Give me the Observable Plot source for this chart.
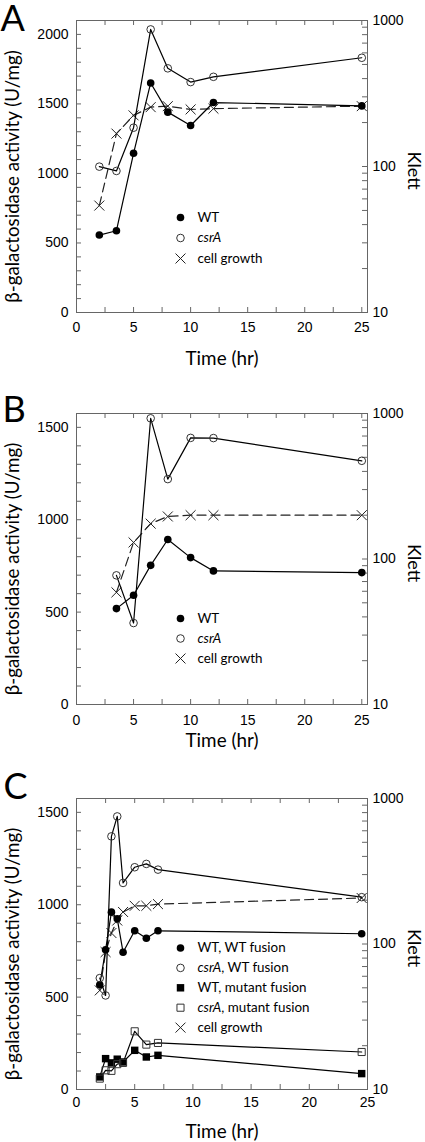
<!DOCTYPE html>
<html><head><meta charset="utf-8">
<script src="https://cdn.jsdelivr.net/npm/d3@7"></script>
<script src="https://cdn.jsdelivr.net/npm/@observablehq/plot@0.6"></script>
<style>
html,body{margin:0;padding:0;background:#fff;}
#chart{position:relative;width:425px;height:1142px;overflow:hidden;background:#fff;}
</style></head><body><div id="chart"></div>
<script>
// ---------------- data ----------------
// Panel A
const timeA   = [2, 3.5, 5, 6.5, 8, 10, 12, 25];
const wtA     = [557, 588, 1145, 1651, 1441, 1345, 1510, 1486];
const csrAA   = [1049, 1018, 1329, 2036, 1756, 1657, 1695, 1832];
const growthA = [54, 168, 224, 255, 259, 246, 249, 259];
// Panel B
const timeB   = [3.5, 5, 6.5, 8, 10, 12, 25];
const wtB     = [519, 591, 753, 893, 795, 723, 714];
const csrAB   = [699, 441, 1549, 1220, 1443, 1442, 1319];
const growthB = [59, 130, 175, 196, 200, 200, 200];
// Panel C
const timeC   = [2, 2.5, 3, 3.5, 4, 5, 6, 7, 24.5];
const wtWtC   = [567, 756, 960, 924, 743, 859, 819, 859, 843];
const csrWtC  = [603, 509, 1370, 1478, 1118, 1203, 1221, 1190, 1041];
const wtMutC  = [68, 167, 144, 164, 149, 212, 176, 185, 86];
const csrMutC = [59, 104, 101, 137, 144, 315, 243, 252, 203];
const growthC = [48, 88, 119, 145, 166, 183, 183, 188, 207];

// tick labels
const xTicks = [0, 5, 10, 15, 20, 25];
const yTicksA = [0, 500, 1000, 1500, 2000];
const yTicksBC = [0, 500, 1000, 1500];
const kletTicks = [10, 100, 1000];

// text
const yTitle = "β-galactosidase activity (U/mg)";
const xTitle = "Time (hr)";
const rTitle = "Klett";
const legendAB = [
  {sym: "filledCircle", parts: [["WT", false]]},
  {sym: "openCircle", parts: [["csrA", true]]},
  {sym: "times", parts: [["cell growth", false]]}
];
const legendC = [
  {sym: "filledCircle", parts: [["WT, WT fusion", false]]},
  {sym: "openCircle", parts: [["csrA", true], [", WT fusion", false]]},
  {sym: "filledSquare", parts: [["WT, mutant fusion", false]]},
  {sym: "openSquare", parts: [["csrA", true], [", mutant fusion", false]]},
  {sym: "times", parts: [["cell growth", false]]}
];

// ---------------- layout / style ----------------
const W = 425, ML = 76, MR = 58;
const TITLE_FONT = "Lato, 'Open Sans', sans-serif";
const TICK_FONT = "'Liberation Sans', Arial, sans-serif";
const FRAME = "#666";
const ctx = document.createElement("canvas").getContext("2d");
function textW(s, italic, size) {
  ctx.font = `${italic ? "italic " : ""}${size}px ${TITLE_FONT}`;
  return ctx.measureText(s).width;
}
// font sizes fitted to the reference text lengths
const fit = (s, target) => +(20 * target / textW(s, false, 20)).toFixed(2);
const Y_TITLE_SIZE = fit(yTitle, 253);
const X_TITLE_SIZE = fit(xTitle, 73);
const R_TITLE_SIZE = fit(rTitle, 38);
const LEG_SIZE = fit("cell growth", 65);

const symStyle = {
  filledCircle: {symbol: "circle", fill: "black", stroke: "none", r: 3.8},
  openCircle: {symbol: "circle", fill: "none", stroke: "#333", strokeWidth: 1, r: 3.8},
  filledSquare: {symbol: "square", fill: "black", stroke: "none", r: 4.2},
  openSquare: {symbol: "square", fill: "none", stroke: "#333", strokeWidth: 1, r: 4.0},
  times: {symbol: "times", fill: "none", stroke: "#222", strokeWidth: 1, r: 4.6}
};

function buildPanel(cfg) {
  const plotW = W - ML - MR;
  const plotH = cfg.height - cfg.mt - cfg.mb;
  const common = {width: W, height: cfg.height, marginLeft: ML, marginRight: MR,
                  marginTop: cfg.mt, marginBottom: cfg.mb};
  const xMinor = d3.range(0, cfg.xDomain[1] + 0.01, 2.5);
  const yMinor = d3.range(0, cfg.yDomain[1] + 1, 100);
  const kMinor = [20,30,40,50,60,70,80,90,100,200,300,400,500,600,700,800,900];

  const growth = cfg.time.map((t, i) => ({t, k: cfg.growth[i]}));

  const logPlot = Plot.plot({
    ...common,
    x: {domain: cfg.xDomain, axis: null},
    y: {type: "log", domain: [10, 1000], label: null},
    style: {background: "white", fontFamily: TICK_FONT, fontSize: "14px", color: "black"},
    marks: [
      Plot.line(growth, {x: "t", y: "k", stroke: "#222", strokeWidth: 1.2, strokeDasharray: "9,5"}),
      Plot.dot(growth, {x: "t", y: "k", ...symStyle.times}),
      Plot.tickY(kMinor, {y: d => d, insetLeft: plotW - 5, stroke: FRAME}),
      Plot.axisY({anchor: "right", ticks: kletTicks, tickFormat: d => String(d), tickSize: 0,
                  tickPadding: 5, label: null}),
      Plot.text([rTitle], {text: d => d, frameAnchor: "right", dx: 46, dy: 4, rotate: 90,
                  textAnchor: "middle", lineAnchor: "middle",
                  fontSize: R_TITLE_SIZE, fontFamily: TITLE_FONT, fill: "black"})
    ]
  });

  const seriesMarks = [];
  for (const s of cfg.series) {
    const data = cfg.time.map((t, i) => ({t, v: s.values[i]}));
    seriesMarks.push(Plot.line(data, {x: "t", y: "v", stroke: "black", strokeWidth: 1.2}));
    seriesMarks.push(Plot.dot(data, {x: "t", y: "v", ...symStyle[s.sym]}));
  }

  const legendMarks = [];
  cfg.legend.forEach((item, i) => {
    const dy = cfg.legDy + i * cfg.legStep;
    legendMarks.push(Plot.dot([item], {frameAnchor: "top-left", dx: cfg.legDx, dy, ...symStyle[item.sym]}));
    let off = 0;
    for (const [str, italic] of item.parts) {
      legendMarks.push(Plot.text([str], {text: d => d, frameAnchor: "top-left", dx: cfg.legDx + 17 + off, dy,
        textAnchor: "start", lineAnchor: "middle", fontSize: LEG_SIZE, fontFamily: TITLE_FONT,
        fontStyle: italic ? "italic" : "normal", fill: "black"}));
      off += textW(str, italic, LEG_SIZE);
    }
  });

  const linPlot = Plot.plot({
    ...common,
    x: {domain: cfg.xDomain, label: null},
    y: {domain: cfg.yDomain, label: null},
    style: {background: "transparent", fontFamily: TICK_FONT, fontSize: "14px", color: "black"},
    marks: [
      Plot.tickY(yMinor, {y: d => d, insetRight: plotW - 5, stroke: FRAME}),
      Plot.tickX(xMinor, {x: d => d, insetTop: plotH - 5, stroke: FRAME}),
      Plot.tickX(xMinor, {x: d => d, insetBottom: plotH - 5, stroke: FRAME}),
      Plot.frame({stroke: FRAME}),
      Plot.axisX({ticks: xTicks, tickFormat: d => String(d), tickSize: 0, tickPadding: cfg.xPad, label: null}),
      Plot.axisY({anchor: "left", ticks: cfg.yTicks, tickFormat: d => String(d), tickSize: 0, tickPadding: 8, label: null}),
      ...seriesMarks,
      ...legendMarks,
      Plot.text([yTitle], {text: d => d, frameAnchor: "left", dx: -63, dy: 10, rotate: -90,
        textAnchor: "middle", lineAnchor: "middle",
        fontSize: Y_TITLE_SIZE, fontFamily: TITLE_FONT, fill: "black"}),
      Plot.text([xTitle], {text: d => d, frameAnchor: "bottom", dy: cfg.xTitleDy,
        textAnchor: "middle", lineAnchor: "middle",
        fontSize: X_TITLE_SIZE, fontFamily: TITLE_FONT, fill: "black"}),
      Plot.text([cfg.letter], {text: d => d, frameAnchor: "top-left", dx: -76 + cfg.letterX, dy: cfg.letterDy,
        textAnchor: "start", lineAnchor: "top", fontSize: 36, fontFamily: TITLE_FONT, fill: "black"})
    ]
  });

  const chart = document.getElementById("chart");
  for (const el of [logPlot, linPlot]) {
    el.style.position = "absolute";
    el.style.left = "0px";
    el.style.top = cfg.top + "px";
    el.style.maxWidth = "none";
    el.style.overflow = "visible";
    chart.appendChild(el);
  }
}

buildPanel({
  letter: "A", top: 0, height: 372, mt: 20, mb: 60, xDomain: [0, 25.5], yDomain: [0, 2100],
  yTicks: yTicksA, time: timeA, growth: growthA,
  series: [{values: wtA, sym: "filledCircle"}, {values: csrAA, sym: "openCircle"}],
  legend: legendAB, legDx: 104, legDy: 197, legStep: 20.5,
  xPad: 9.5, xTitleDy: 46, letterX: 0, letterDy: -15
});
buildPanel({
  letter: "B", top: 372, height: 378, mt: 41, mb: 46, xDomain: [0, 25.5], yDomain: [0, 1575],
  yTicks: yTicksBC, time: timeB, growth: growthB,
  series: [{values: wtB, sym: "filledCircle"}, {values: csrAB, sym: "openCircle"}],
  legend: legendAB, legDx: 104, legDy: 205, legStep: 20,
  xPad: 11, xTitleDy: 36, letterX: 2, letterDy: -17
});
buildPanel({
  letter: "C", top: 750, height: 392, mt: 48, mb: 53, xDomain: [0, 25], yDomain: [0, 1575],
  yTicks: yTicksBC, time: timeC, growth: growthC,
  series: [{values: wtWtC, sym: "filledCircle"}, {values: csrWtC, sym: "openCircle"},
           {values: wtMutC, sym: "filledSquare"}, {values: csrMutC, sym: "openSquare"}],
  legend: legendC, legDx: 104, legDy: 149.5, legStep: 19.9,
  xPad: 7.5, xTitleDy: 42, letterX: 3, letterDy: -25
});
</script></body></html>
